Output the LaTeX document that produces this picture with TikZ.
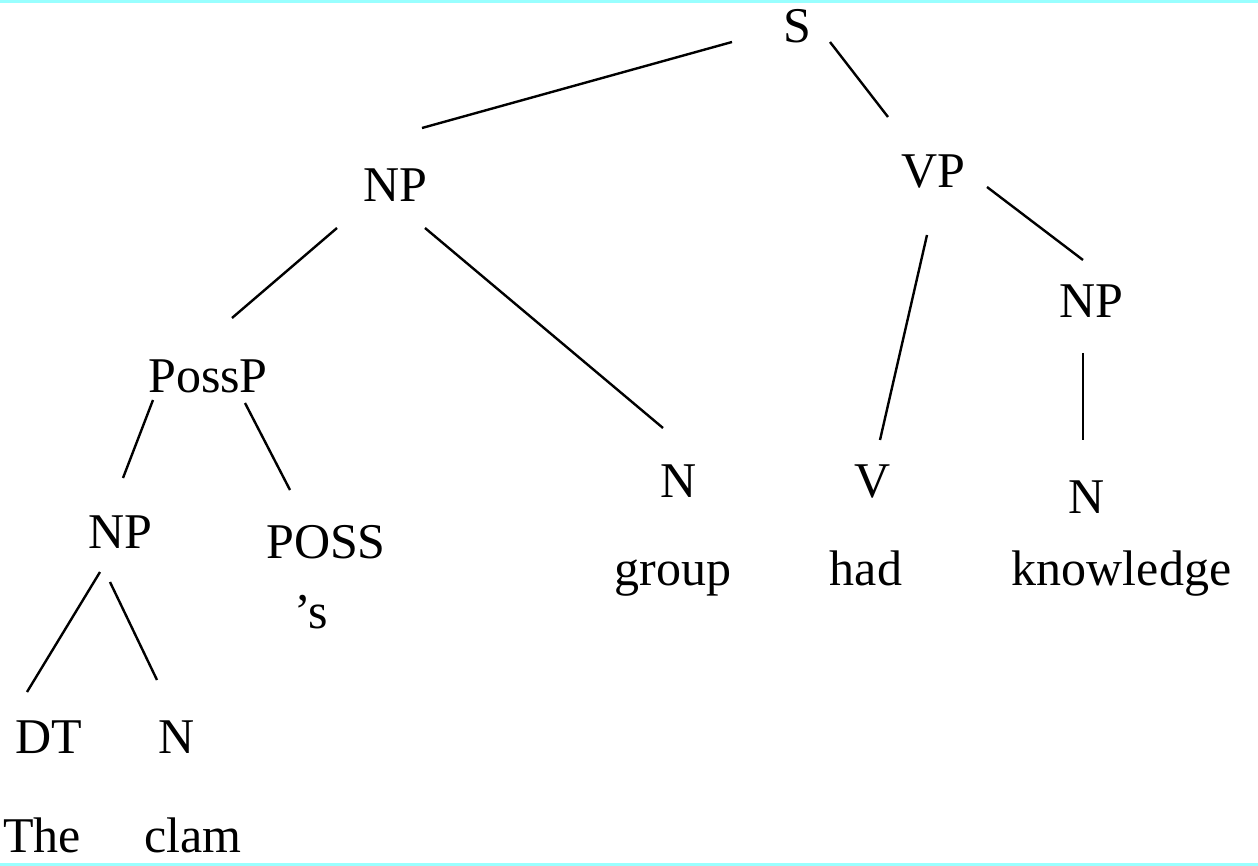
\documentclass[tikz,border=0pt]{standalone}
\usepackage{fontspec}
\setmainfont{Liberation Serif}
\definecolor{bandcyan}{HTML}{99FFFF}
\begin{document}
\begin{tikzpicture}[x=1pt,y=-1pt,
  lbl/.style={inner sep=0pt,anchor=base,font=\fontsize{50}{60}\selectfont},
  edge/.style={line width=2.4pt,black}]
\useasboundingbox (0,0) rectangle (1258,866);
\fill[white] (0,0) rectangle (1258,866);
\fill[bandcyan] (0,0) rectangle (1258,3);
\fill[bandcyan] (0,863) rectangle (1258,866);
% nodes
\node[lbl] (S) at (797.5,43) {S};
\node[lbl] (NPa) at (395,202) {NP};
\node[lbl] (VP) at (933,188) {VP};
\node[lbl] (NPb) at (1091,318) {NP};
\node[lbl] (PossP) at (208,392) {PossP};
\node[lbl] (Ng) at (679,497) {N};
\node[lbl] (V) at (873,497) {V};
\node[lbl] (Nk) at (1087,513) {N};
\node[lbl] (NPc) at (120,548) {NP};
\node[lbl] (POSS) at (326,558) {POSS};
\node[lbl] (DT) at (49,753) {DT};
\node[lbl] (Nc) at (177,753) {N};
\node[lbl] (wgroup) at (673,585) {group};
\node[lbl] (whad) at (866,585) {had};
\node[lbl] (wknow) at (1121.5,585) {knowledge};
\node[lbl] (wposs) at (311,628) {'s};
\node[lbl] (wthe) at (42,852) {The};
\node[lbl] (wclam) at (193,852) {clam};
% edges
\draw[edge] ([shift={(-65.5,-1)}]S.base) -- ([shift={(27,-74)}]NPa.base);
\draw[edge] ([shift={(32.5,-1)}]S.base) -- ([shift={(-45,-71)}]VP.base);
\draw[edge] ([shift={(-58,26)}]NPa.base) -- ([shift={(24,-74)}]PossP.base);
\draw[edge] ([shift={(30,26)}]NPa.base) -- ([shift={(-16,-69)}]Ng.base);
\draw[edge] ([shift={(-6,47)}]VP.base) -- ([shift={(7,-57)}]V.base);
\draw[edge] ([shift={(54,-1)}]VP.base) -- ([shift={(-8,-58)}]NPb.base);
\draw[edge] ([shift={(-8,35)}]NPb.base) -- ([shift={(-4,-73)}]Nk.base);
\draw[edge] ([shift={(-55,8)}]PossP.base) -- ([shift={(3,-70)}]NPc.base);
\draw[edge] ([shift={(37,11)}]PossP.base) -- ([shift={(-36,-68)}]POSS.base);
\draw[edge] ([shift={(-20,24)}]NPc.base) -- ([shift={(-22,-61)}]DT.base);
\draw[edge] ([shift={(-10,34)}]NPc.base) -- ([shift={(-20,-73)}]Nc.base);
\end{tikzpicture}
\end{document}
